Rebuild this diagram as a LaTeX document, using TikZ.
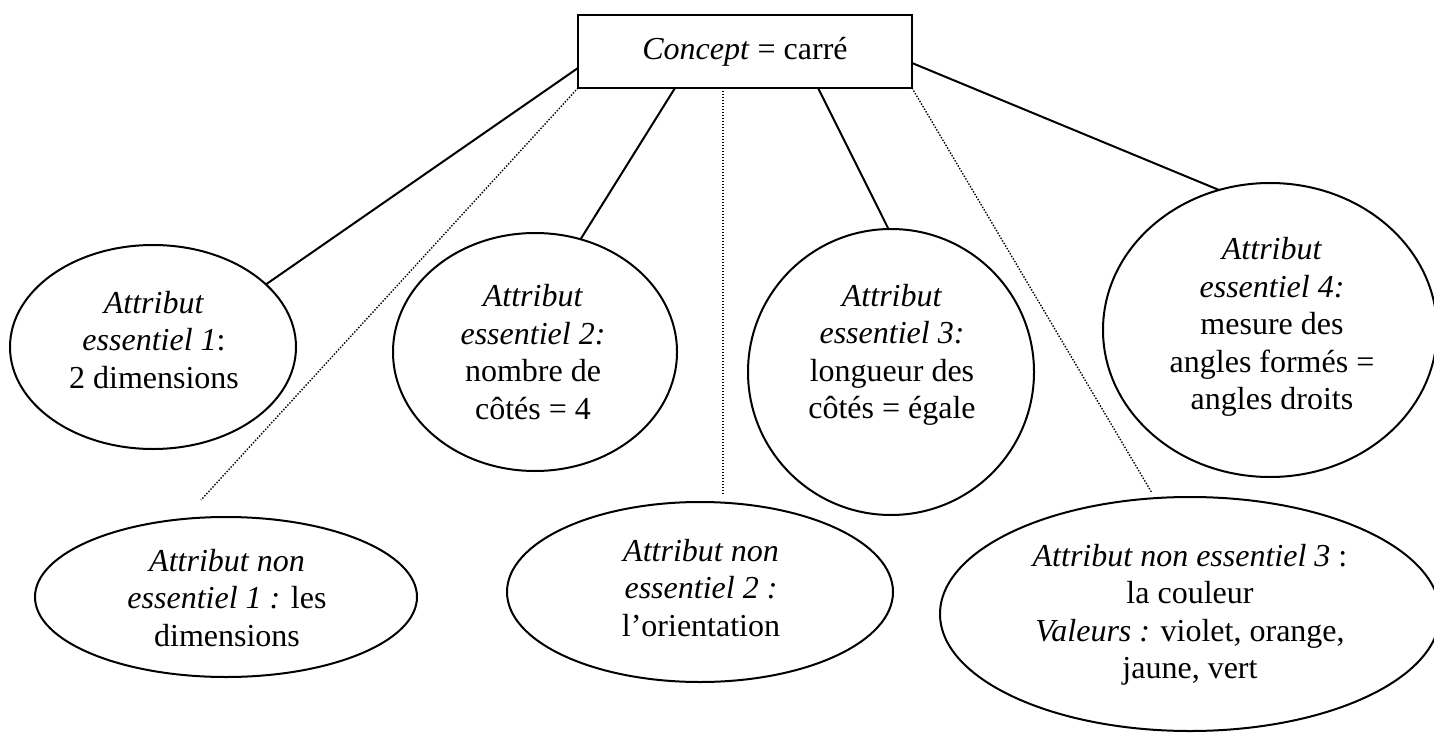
\documentclass[tikz,border=0pt]{standalone}
\usepackage{fontspec}
\setmainfont{Liberation Serif}
\usetikzlibrary{shapes.geometric,calc}
\begin{document}
\begin{tikzpicture}[x=0.5pt,y=-0.5pt,
  txt/.style={align=center,font=\fontsize{16}{18.75}\selectfont,inner sep=0pt},
  oval/.style={draw,ellipse,line width=1pt,inner sep=0pt,outer sep=0pt},
  link/.style={line width=1pt},
  dotlink/.style={line width=0.7pt,dash pattern=on 0.7pt off 0.8pt},
  conceptbox/.style={draw,line width=1.4pt,minimum width=167pt,minimum height=36.5pt,inner sep=0pt,outer sep=0pt,font=\fontsize{16}{18.75}\selectfont}]
\useasboundingbox (0,0) rectangle (1434,733);

\node[conceptbox] (box) at (745,51.5) {\textit{Concept} = carré};

\node[oval,minimum width=143pt,minimum height=102pt] (e1) at (153,347) {};
\node[oval,minimum width=142pt,minimum height=119pt] (e2) at (535,352) {};
\node[oval,minimum width=143pt,minimum height=143pt] (e3) at (891,372) {};
\node[oval,minimum width=167pt,minimum height=147pt] (e4) at (1270,330) {};
\node[oval,minimum width=191pt,minimum height=80pt] (n1) at (226,597) {};
\node[oval,minimum width=193pt,minimum height=90pt] (n2) at (700,592) {};
\node[oval,minimum width=250pt,minimum height=117pt] (n3) at (1190,614) {};

\node[txt] (t1) at (154,340) {\textit{Attribut}\\\textit{essentiel 1}:\\2 dimensions};
\node[txt] (t2) at (533,352) {\textit{Attribut}\\\textit{essentiel 2:}\\nombre de\\côtés = 4};
\node[txt] (t3) at (892,355) {\textit{Attribut}\\\textit{essentiel 3:}\\longueur des\\côtés = égale};
\node[txt] (t4) at (1272,327) {\textit{Attribut}\\\textit{essentiel 4:}\\mesure des\\angles formés =\\angles droits};
\node[txt] (tn1) at (227,598) {\textit{Attribut non}\\\textit{essentiel 1 :} les\\dimensions};
\node[txt] (tn2) at (701,588) {\textit{Attribut non}\\\textit{essentiel 2 :}\\l’orientation};
\node[txt] (tn3) at (1190,615) {\textit{Attribut non essentiel 3} :\\la couleur\\\textit{Valeurs :} violet, orange,\\jaune, vert};

\coordinate (d1) at (201,500);
\coordinate (d2) at (723,495);
\coordinate (d3) at (1152,493);

\draw[link] ([yshift=-8.25pt]box.west) -- (e1.29);
\draw[dotlink] (box.south west) -- (d1);
\draw[link] ([xshift=-35pt]box.south) -- (e2.68);
\draw[dotlink] ([xshift=-11pt]box.south) -- (d2);
\draw[link] ([xshift=36.5pt]box.south) -- (e3.91);
\draw[dotlink] (box.south east) -- (d3);
\draw[link] ([yshift=-5.75pt]box.east) -- (e4.110);
\end{tikzpicture}
\end{document}
